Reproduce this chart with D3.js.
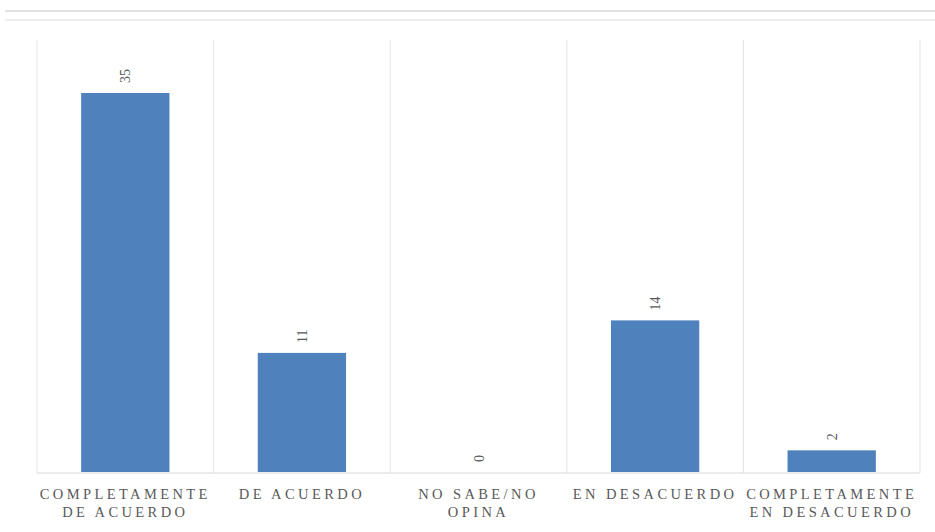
<!DOCTYPE html>
<html>
<head>
<meta charset="utf-8">
<script src="https://cdn.jsdelivr.net/npm/d3@7"></script>
<style>
  body { margin: 0; background: #fff; }
  text { font-family: "Liberation Serif", "DejaVu Serif", serif; }
</style>
</head>
<body>
<div id="chart"></div>
<script>
// categories and counts
const categories = [
  ["COMPLETAMENTE", "DE ACUERDO"],
  ["DE ACUERDO"],
  ["NO SABE/NO", "OPINA"],
  ["EN DESACUERDO"],
  ["COMPLETAMENTE", "EN DESACUERDO"]
];
const values = [35, 11, 0, 14, 2];

const width = 935, height = 532;
const margin = { top: 40, right: 15, bottom: 59, left: 37 };

const svg = d3.select("#chart").append("svg")
  .attr("width", width)
  .attr("height", height);

// faint frame lines at the top like the original capture
svg.append("line").attr("x1", 5).attr("x2", width).attr("y1", 11).attr("y2", 11)
  .attr("stroke", "#e2e2e2").attr("stroke-width", 2);
svg.append("line").attr("x1", 5).attr("x2", width).attr("y1", 20).attr("y2", 20)
  .attr("stroke", "#efefef").attr("stroke-width", 2);

const x = d3.scaleBand()
  .domain(d3.range(values.length))
  .range([margin.left, width - margin.right])
  .paddingInner(0).paddingOuter(0);

const y = d3.scaleLinear()
  .domain([0, 35])
  .range([height - margin.bottom - 1, 93]);

const g = svg.append("g");

// vertical separators between categories
const seps = d3.range(values.length + 1).map(i => i < values.length ? x(i) : x(values.length - 1) + x.bandwidth());
g.selectAll("line.sep").data(seps).enter().append("line")
  .attr("class", "sep")
  .attr("x1", d => d).attr("x2", d => d)
  .attr("y1", margin.top).attr("y2", height - margin.bottom)
  .attr("stroke", "#e4e4e4").attr("stroke-width", 1);

// baseline
g.append("line")
  .attr("x1", margin.left).attr("x2", width - margin.right)
  .attr("y1", height - margin.bottom).attr("y2", height - margin.bottom)
  .attr("stroke", "#d9d9d9");

const barW = x.bandwidth() * 0.5;

g.selectAll("rect.bar").data(values).enter().append("rect")
  .attr("class", "bar")
  .attr("x", (d, i) => x(i) + (x.bandwidth() - barW) / 2)
  .attr("y", d => y(d))
  .attr("width", barW)
  .attr("height", d => y(0) - y(d))
  .attr("fill", "#4f81bd");

// rotated data labels
g.selectAll("text.val").data(values).enter().append("text")
  .attr("class", "val")
  .attr("transform", (d, i) => `translate(${x(i) + x.bandwidth() / 2 + 5},${y(d) - 10}) rotate(-90)`)
  .attr("text-anchor", "start")
  .attr("font-size", 14)
  .attr("fill", "#595959")
  .text(d => d);

// category labels
const lab = g.selectAll("text.cat").data(categories).enter().append("text")
  .attr("class", "cat")
  .attr("x", (d, i) => x(i) + x.bandwidth() / 2)
  .attr("y", height - margin.bottom + 26)
  .attr("text-anchor", "middle")
  .attr("font-size", 14.5)
  .attr("letter-spacing", "3.4px")
  .attr("fill", "#595959");

lab.selectAll("tspan").data(d => d).enter().append("tspan")
  .attr("x", function () { return d3.select(this.parentNode).attr("x"); })
  .attr("dy", (d, i) => i === 0 ? 0 : 18)
  .text(d => d);
</script>
</body>
</html>
